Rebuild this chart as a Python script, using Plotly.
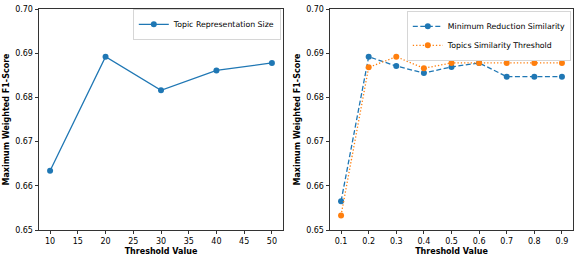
import plotly.graph_objects as go

# Data
size_x = [10, 20, 30, 40, 50]
size_y = [0.6634, 0.6892, 0.6816, 0.6861, 0.6878]

thr_x = [0.1, 0.2, 0.3, 0.4, 0.5, 0.6, 0.7, 0.8, 0.9]
min_red_y = [0.6565, 0.6892, 0.6871, 0.6855, 0.6869, 0.6878, 0.6847, 0.6847, 0.6847]
topic_sim_y = [0.6533, 0.6868, 0.6892, 0.6866, 0.6878, 0.6878, 0.6878, 0.6878, 0.6878]

y_ticks = [0.65, 0.66, 0.67, 0.68, 0.69, 0.70]
y_labels = ["0.65", "0.66", "0.67", "0.68", "0.69", "0.70"]
x1_ticks = [10, 15, 20, 25, 30, 35, 40, 45, 50]
x2_ticks = [0.1, 0.2, 0.3, 0.4, 0.5, 0.6, 0.7, 0.8, 0.9]

BLUE = "#1f77b4"
ORANGE = "#ff7f0e"
W, H = 581, 261
FONT = "DejaVu Sans"

fig = go.Figure()
fig.add_trace(go.Scatter(x=size_x, y=size_y, mode="lines+markers", name="Topic Representation Size",
                         line=dict(color=BLUE, width=1.3), marker=dict(size=6, color=BLUE),
                         xaxis="x", yaxis="y", legend="legend"))
fig.add_trace(go.Scatter(x=thr_x, y=min_red_y, mode="lines+markers", name="Minimum Reduction Similarity",
                         line=dict(color=BLUE, width=1.3, dash="5px,2.5px"), marker=dict(size=6, color=BLUE),
                         xaxis="x2", yaxis="y2", legend="legend2"))
fig.add_trace(go.Scatter(x=thr_x, y=topic_sim_y, mode="lines+markers", name="Topics Similarity Threshold",
                         line=dict(color=ORANGE, width=1.3, dash="1.3px,2px"), marker=dict(size=6, color=ORANGE),
                         xaxis="x2", yaxis="y2", legend="legend2"))

ydom = [1 - 230 / H, 1 - 9 / H]
axis_common = dict(showline=True, linecolor="#333333", linewidth=0.9, mirror=True,
                   ticks="outside", ticklen=3.5, tickwidth=0.8, tickcolor="#333333",
                   showgrid=False, zeroline=False, automargin=False,
                   tickfont=dict(family=FONT, size=8, color="black"))
title_font = dict(family=FONT, size=8, color="black", weight="bold")
legend_font = dict(family=FONT, size=7.8, color="black")

fig.update_layout(
    width=W, height=H, autosize=False,
    margin=dict(l=0, r=0, t=0, b=0, pad=0, autoexpand=False),
    paper_bgcolor="white", plot_bgcolor="white",
    xaxis=dict(domain=[39 / W, 283 / W], range=[8, 52], tickvals=x1_ticks,
               title=dict(text="Threshold Value", font=title_font, standoff=3), anchor="y", **axis_common),
    yaxis=dict(domain=ydom, range=[0.65, 0.70], tickvals=y_ticks, ticktext=y_labels,
               title=dict(text="Maximum Weighted F1-Score", font=title_font, standoff=4), anchor="x", **axis_common),
    xaxis2=dict(domain=[330 / W, 573 / W], range=[0.06, 0.94], tickvals=x2_ticks,
                title=dict(text="Threshold Value", font=title_font, standoff=3), anchor="y2", **axis_common),
    yaxis2=dict(domain=ydom, range=[0.65, 0.70], tickvals=y_ticks, ticktext=y_labels,
                title=dict(text="Maximum Weighted F1-Score", font=title_font, standoff=4), anchor="x2", **axis_common),
    legend=dict(x=281 / W, y=1 - 9 / H, xanchor="right", yanchor="top",
                bordercolor="#cccccc", borderwidth=0.8, bgcolor="white",
                font=legend_font, tracegroupgap=0, itemwidth=30),
    legend2=dict(x=571 / W, y=1 - 11 / H, xanchor="right", yanchor="top",
                 bordercolor="#cccccc", borderwidth=0.8, bgcolor="white",
                 font=legend_font, tracegroupgap=0, itemwidth=30),
    showlegend=True,
)

fig.write_html("out.html", config={"displayModeBar": False},
               post_script="document.body.style.margin='0';document.body.style.overflow='hidden';")
